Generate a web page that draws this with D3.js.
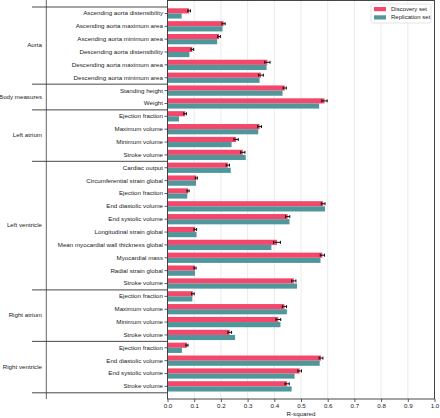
<!DOCTYPE html>
<html><head><meta charset="utf-8">
<script src="https://cdn.jsdelivr.net/npm/d3@7"></script>
<style>body{margin:0;background:#fff}svg{display:block}text{font-family:"Liberation Sans",Arial,sans-serif}</style>
</head><body>
<svg id="c" width="440" height="418"></svg>
<script>
const groups = ["Aorta","Body measures","Left atrium","Left ventricle","Right atrium","Right ventricle"];
const groupSizes = [6,2,4,10,4,4];
const features = [
 "Ascending aorta distensibility","Ascending aorta maximum area","Ascending aorta minimum area","Descending aorta distensibility","Descending aorta maximum area","Descending aorta minimum area",
 "Standing height","Weight",
 "Ejection fraction","Maximum volume","Minimum volume","Stroke volume",
 "Cardiac output","Circumferential strain global","Ejection fraction","End diastolic volume","End systolic volume","Longitudinal strain global","Mean myocardial wall thickness global","Myocardial mass","Radial strain global","Stroke volume",
 "Ejection fraction","Maximum volume","Minimum volume","Stroke volume",
 "Ejection fraction","End diastolic volume","End systolic volume","Stroke volume"];
const discovery = [0.081,0.210,0.193,0.093,0.374,0.350, 0.439,0.588, 0.066,0.345,0.257,0.282, 0.226,0.108,0.077,0.583,0.450,0.104,0.410,0.580,0.103,0.473, 0.095,0.438,0.415,0.233, 0.073,0.575,0.495,0.448];
const replication = [0.053,0.206,0.186,0.082,0.371,0.345, 0.431,0.568, 0.043,0.340,0.240,0.293, 0.237,0.107,0.074,0.590,0.457,0.109,0.389,0.573,0.103,0.485, 0.093,0.447,0.423,0.253, 0.054,0.570,0.476,0.465];
const discoveryErr = [0.005,0.006,0.005,0.005,0.010,0.009, 0.006,0.010, 0.005,0.007,0.008,0.008, 0.006,0.004,0.004,0.007,0.008,0.005,0.013,0.008,0.004,0.008, 0.005,0.008,0.009,0.007, 0.004,0.007,0.007,0.008];
const xTicks = [0,0.1,0.2,0.3,0.4,0.5,0.6,0.7,0.8,0.9,1.0];
const seriesNames = ["Discovery set","Replication set"];
const colors = ["#f4476b","#4f979b"];

const svg = d3.select("#c");
const L = 167.5, R = 434.5, T = 0, B = 399;
const x = d3.scaleLinear().domain([0,1]).range([L,R]);
const idx = d3.range(features.length);
const y = d3.scaleBand().domain(idx).range([7,392.8]).paddingInner(0).paddingOuter(0);
const step = y.step();

// grid
svg.append("g").selectAll("line").data(xTicks.slice(1,-1)).join("line")
  .attr("x1",d=>x(d)).attr("x2",d=>x(d)).attr("y1",T).attr("y2",B)
  .attr("stroke","#e6e6e6").attr("stroke-width",0.8);

// bars
const g = svg.append("g");
g.selectAll("rect.d").data(idx).join("rect").attr("class","d")
  .attr("x",x(0)).attr("y",i=>y(i)+0.1*step).attr("width",i=>x(discovery[i])-x(0)).attr("height",0.4*step)
  .attr("fill",colors[0]);
g.selectAll("rect.r").data(idx).join("rect").attr("class","r")
  .attr("x",x(0)).attr("y",i=>y(i)+0.5*step).attr("width",i=>x(replication[i])-x(0)).attr("height",0.4*step)
  .attr("fill",colors[1]);
// error bars
const eb = svg.append("g").attr("stroke","#111").attr("stroke-width",1);
idx.forEach(i=>{
  const cy = y(i)+0.3*step, x1 = x(discovery[i]-discoveryErr[i]), x2 = x(discovery[i]+discoveryErr[i]);
  eb.append("line").attr("x1",x1).attr("x2",x2).attr("y1",cy).attr("y2",cy);
  eb.append("line").attr("x1",x1).attr("x2",x1).attr("y1",cy-1.5).attr("y2",cy+1.5);
  eb.append("line").attr("x1",x2).attr("x2",x2).attr("y1",cy-1.5).attr("y2",cy+1.5);
});

// frame
svg.append("rect").attr("x",L).attr("y",T+0.5).attr("width",R-L).attr("height",B-T-0.5)
  .attr("fill","none").attr("stroke","#333").attr("stroke-width",0.9);

// y axis
const ya = svg.append("g").attr("transform",`translate(${L},0)`)
  .call(d3.axisLeft(y).tickSize(3).tickPadding(1.5).tickFormat(i=>features[i]));
ya.select(".domain").remove();
ya.selectAll("line").attr("stroke","#333").attr("stroke-width",0.8);
ya.selectAll("text").attr("font-size",6.2).attr("fill","#222").style("font-family","'Liberation Sans',Arial,sans-serif");

// x axis
const xa = svg.append("g").attr("transform",`translate(0,${B})`)
  .call(d3.axisBottom(x).tickValues(xTicks).tickSize(3).tickPadding(2).tickFormat(d3.format(".1f")));
xa.select(".domain").remove();
xa.selectAll("line").attr("stroke","#333").attr("stroke-width",0.8);
xa.selectAll("text").attr("font-size",6.2).attr("fill","#222").style("font-family","'Liberation Sans',Arial,sans-serif");
svg.append("text").attr("x",x(0.5)).attr("y",416).attr("text-anchor","middle")
  .attr("font-size",6.2).attr("fill","#222").text("R-squared");

// group separators & labels
svg.append("line").attr("x1",46.3).attr("x2",46.3).attr("y1",0).attr("y2",B).attr("stroke","#555").attr("stroke-width",0.9);
let start = 0;
const bounds = [0];
groupSizes.forEach(s=>{start+=s;bounds.push(start);});
svg.append("g").selectAll("line").data(bounds).join("line")
  .attr("x1",32).attr("x2",L).attr("y1",b=>b===features.length? y(b-1)+step : y(b)).attr("y2",b=>b===features.length? y(b-1)+step : y(b))
  .attr("stroke","#333").attr("stroke-width",0.9);
svg.append("g").selectAll("text").data(groups).join("text")
  .attr("x",42).attr("text-anchor","end").attr("dominant-baseline","middle")
  .attr("y",(d,k)=>{const a=y(bounds[k]); const b=y(bounds[k+1]-1)+step; return (a+b)/2;})
  .attr("font-size",6.2).attr("fill","#222").text(d=>d);

// legend
const lg = svg.append("g");
lg.append("rect").attr("x",371).attr("y",4).attr("width",60).attr("height",19).attr("rx",1.5)
  .attr("fill","#fff").attr("fill-opacity",0.85).attr("stroke","#ddd").attr("stroke-width",0.8);
seriesNames.forEach((n,k)=>{
  lg.append("rect").attr("x",374).attr("y",7+k*8.3).attr("width",12).attr("height",4.2).attr("fill",colors[k]);
  lg.append("text").attr("x",391).attr("y",9.3+k*8.3).attr("dominant-baseline","middle")
    .attr("font-size",6).attr("fill","#222").text(n);
});
</script>
</body></html>
